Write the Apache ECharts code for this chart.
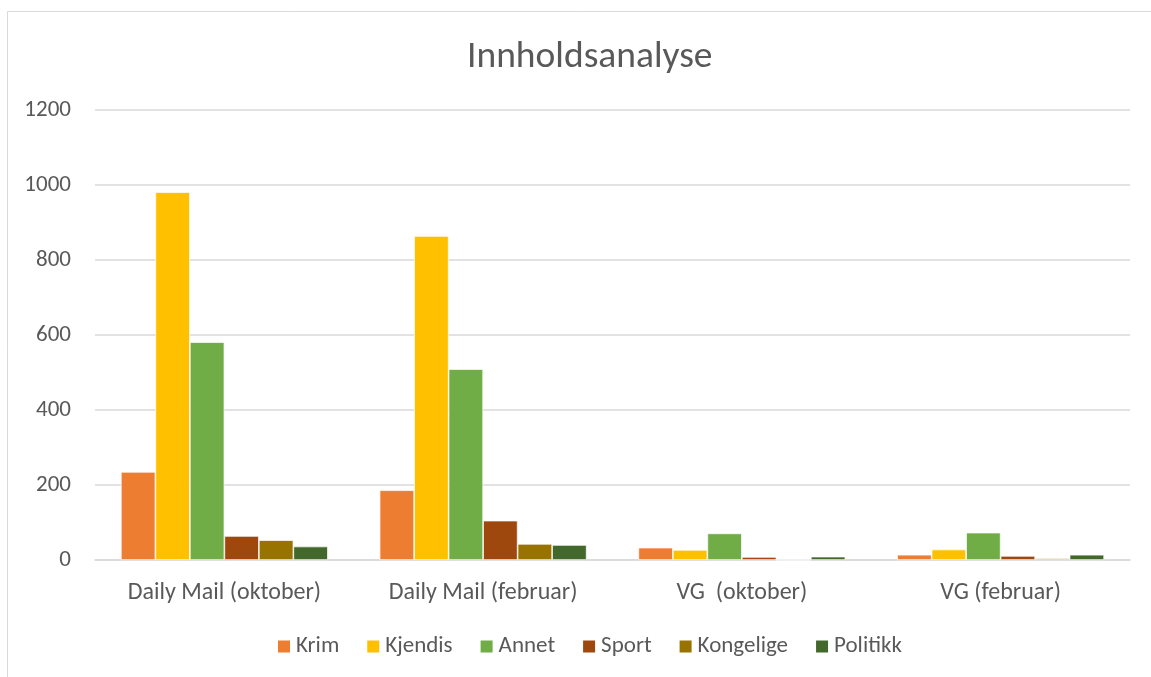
<!DOCTYPE html>
<html><head><meta charset="utf-8">
<script src="https://cdn.jsdelivr.net/npm/echarts@6/dist/echarts.min.js"></script>
<style>html,body{margin:0;padding:0;background:#fff}#c{width:1151px;height:677px}</style>
</head><body><div id="c"></div>
<script>
const categories = ['Daily Mail (oktober)', 'Daily Mail (februar)', 'VG  (oktober)', 'VG (februar)'];
const krim = [235, 186, 33, 14];
const kjendis = [981, 864, 27, 28];
const annet = [581, 509, 71, 73];
const sport = [64, 105, 8, 11];
const kongelige = [53, 43, 0, 4];
const politikk = [36, 40, 9, 14];
const yTicks = [0, 200, 400, 600, 800, 1000, 1200];

const names = ['Krim', 'Kjendis', 'Annet', 'Sport', 'Kongelige', 'Politikk'];
const values = [krim, kjendis, annet, sport, kongelige, politikk];
const colors = ['#ED7D31', '#FFC000', '#70AD47', '#9E480E', '#997300', '#43682B'];
const font = 'Calibri, Carlito, "Liberation Sans", sans-serif';

const chart = echarts.init(document.getElementById('c'));
chart.setOption({
  animation: false,
  textStyle: { fontFamily: font },
  graphic: [{ type: 'rect', shape: { x: 7.5, y: 11.5, width: 1200, height: 700 }, style: { fill: 'none', stroke: '#d9d9d9', lineWidth: 1 }, silent: true }],
  title: { text: 'Innholdsanalyse', left: 462, top: 34, textStyle: { fontSize: 37.5, fontWeight: 'normal', color: '#595959', fontFamily: font } },
  grid: { left: 95, right: 21, top: 110, bottom: 117, containLabel: false },
  legend: {
    bottom: 14, left: 271, itemWidth: 14, itemHeight: 14, itemGap: 26, icon: 'rect',
    textStyle: { fontSize: 23, color: '#595959', fontFamily: font },
    data: names
  },
  xAxis: {
    type: 'category', data: categories,
    axisLine: { lineStyle: { color: '#d9d9d9', width: 1.5 } },
    axisTick: { show: false },
    axisLabel: { fontSize: 24, color: '#595959', margin: 21, fontFamily: font }
  },
  yAxis: {
    type: 'value', min: yTicks[0], max: yTicks[yTicks.length - 1], interval: 200,
    axisLine: { show: false }, axisTick: { show: false },
    splitLine: { lineStyle: { color: '#d9d9d9', width: 1.5 } },
    axisLabel: { fontSize: 23, color: '#595959', margin: 24, fontFamily: font, formatter: v => String(v) }
  },
  series: names.map((n, i) => ({
    name: n, type: 'bar', data: values[i],
    barGap: '0%', barCategoryGap: '20%',
    itemStyle: { color: colors[i], borderColor: '#ffffff', borderWidth: 0.7 }
  }))
});
</script></body></html>
